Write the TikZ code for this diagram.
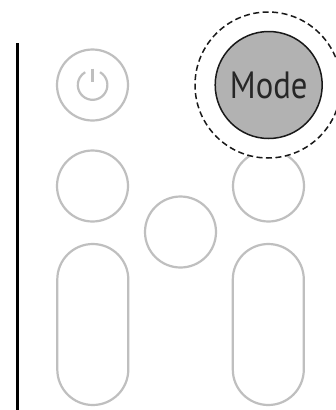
\documentclass[tikz,border=0pt]{standalone}
\usepackage{fontspec}
\usepackage{graphicx}
\setmainfont{PT Sans}
\usetikzlibrary{shapes.misc}
\tikzset{
  softline/.style={draw=black!25,line width=2.2pt},
  roundkey/.style={softline,circle,minimum size=71pt,inner sep=0pt,outer sep=0pt},
  pillkey/.style={softline,rounded rectangle,rotate=90,minimum width=161pt,minimum height=71pt,inner sep=0pt,outer sep=0pt},
  ringmark/.style={circle,draw=black!90,fill=white,line width=1.5pt,dash pattern=on 6pt off 3.5pt,minimum size=146pt,inner sep=0pt,outer sep=0pt},
  modekey/.style={circle,draw=black!90,fill=black!30,line width=1.5pt,minimum size=107pt,inner sep=0pt,outer sep=0pt,font=\fontsize{38}{38}\selectfont,text=black!85}
}
\begin{document}
\begin{tikzpicture}[x=1pt,y=-1pt]
\useasboundingbox (0,0) rectangle (336,410);
\clip (0,0) rectangle (336,410);
\fill[white] (0,0) rectangle (336,410);
\draw[black,line width=3.4pt] (17.2,43) -- (17.2,410);
\node[roundkey] (power) at (92.5,85) {};
\draw[softline] (100,72.2) arc[start angle=-60,end angle=240,radius=14.8];
\draw[softline] (92.5,68.5) -- (92.5,82);
\node[roundkey] (left) at (92.5,186) {};
\node[roundkey] (right) at (268.5,186) {};
\node[roundkey] (middle) at (180.5,232) {};
\node[pillkey] (pillleft) at (92.8,324.5) {};
\node[pillkey] (pillright) at (268.3,324.5) {};
\node[ringmark] (ring) at (268,85) {};
\node[modekey] (mode) at (268.7,85) {\scalebox{0.86}[1]{Mode}};
\end{tikzpicture}
\end{document}
